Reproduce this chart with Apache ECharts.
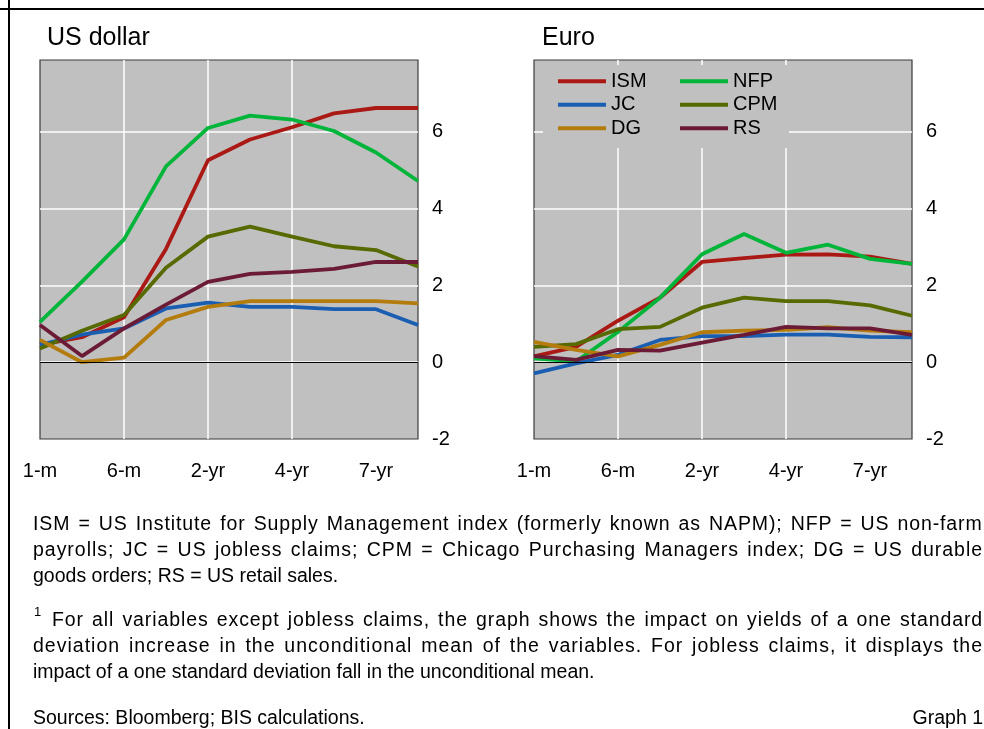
<!DOCTYPE html>
<html>
<head>
<meta charset="utf-8">
<script src="https://cdn.jsdelivr.net/npm/echarts@6/dist/echarts.min.js"></script>
<style>
  html, body { margin: 0; padding: 0; background: #fff; }
  #wrap { position: relative; width: 984px; height: 729px; overflow: hidden; font-family: "Liberation Sans", Arial, sans-serif; color: #000; }
  #chart { position: absolute; left: 0; top: 0; width: 984px; height: 729px; }
  .ln { position: absolute; font-size: 19.5px; line-height: 26px; white-space: nowrap; }
  .rule { position: absolute; background: #000; }
</style>
</head>
<body>
<div id="wrap">
  <div id="chart"></div>
  <div class="rule" style="left:0;top:8px;width:984px;height:2px;"></div>
  <div class="rule" style="left:7.5px;top:0;width:2px;height:729px;"></div>

  <div class="ln jl" data-w="950" style="left:33px;top:510px;">ISM = US Institute for Supply Management index (formerly known as NAPM); NFP = US non-farm</div>
  <div class="ln jl" data-w="950" style="left:33px;top:536px;">payrolls; JC = US jobless claims; CPM = Chicago Purchasing Managers index; DG = US durable</div>
  <div class="ln" style="left:33px;top:562px;">goods orders; RS = US retail sales.</div>

  <div class="ln" style="left:34px;top:599px;font-size:13px;">1</div>
  <div class="ln jl" data-w="931" style="left:52px;top:606px;">For all variables except jobless claims, the graph shows the impact on yields of a one standard</div>
  <div class="ln jl" data-w="950" style="left:33px;top:632px;">deviation increase in the unconditional mean of the variables. For jobless claims, it displays the</div>
  <div class="ln" style="left:33px;top:658px;">impact of a one standard deviation fall in the unconditional mean.</div>

  <div class="ln" style="left:33px;top:704px;">Sources: Bloomberg; BIS calculations.</div>
  <div class="ln" style="right:1px;top:704px;">Graph 1</div>
</div>
<script>
// ---- data ----
const categories = ['1-m', '3-m', '6-m', '1-yr', '2-yr', '3-yr', '4-yr', '5-yr', '7-yr', '10-yr'];
const seriesNames = ['ISM', 'NFP', 'JC', 'CPM', 'DG', 'RS'];
const panelTitles = ['US dollar', 'Euro'];
const yTicks = { min: -2, max: 7.87, interval: 2 };

// US dollar panel
const usISM = [0.45, 0.65, 1.17, 2.95, 5.26, 5.80, 6.12, 6.48, 6.62, 6.62];
const usNFP = [1.05, 2.10, 3.20, 5.10, 6.10, 6.42, 6.32, 6.02, 5.46, 4.72];
const usJC  = [0.45, 0.72, 0.88, 1.40, 1.55, 1.44, 1.44, 1.38, 1.38, 0.97];
const usCPM = [0.36, 0.82, 1.23, 2.46, 3.27, 3.53, 3.27, 3.02, 2.92, 2.49];
const usDG  = [0.58, 0.00, 0.12, 1.10, 1.44, 1.59, 1.59, 1.59, 1.59, 1.53];
const usRS  = [0.97, 0.16, 0.88, 1.50, 2.09, 2.30, 2.35, 2.43, 2.61, 2.61];

// Euro panel
const euISM = [0.15, 0.40, 1.08, 1.68, 2.61, 2.71, 2.80, 2.81, 2.75, 2.56];
const euNFP = [0.10, 0.02, 0.79, 1.68, 2.81, 3.34, 2.85, 3.06, 2.69, 2.56];
const euJC  = [-0.29, -0.03, 0.19, 0.58, 0.68, 0.68, 0.72, 0.72, 0.66, 0.65];
const euCPM = [0.40, 0.47, 0.86, 0.92, 1.42, 1.68, 1.59, 1.59, 1.48, 1.21];
const euDG  = [0.53, 0.32, 0.15, 0.45, 0.78, 0.82, 0.84, 0.91, 0.82, 0.78];
const euRS  = [0.16, 0.06, 0.32, 0.30, 0.51, 0.71, 0.92, 0.88, 0.88, 0.71];

const usData = [usISM, usNFP, usJC, usCPM, usDG, usRS];
const euData = [euISM, euNFP, euJC, euCPM, euDG, euRS];

// ---- style ----
const colors = ['#ab1915', '#00b53a', '#1a5eb2', '#566a00', '#b37c0d', '#6b1b35'];
const FONT = '"Liberation Sans", Arial, sans-serif';

// justify footnote lines: spread the spare width partly over letters, partly over word gaps
(function () {
  const ctx = document.createElement('canvas').getContext('2d');
  document.querySelectorAll('.jl').forEach(function (el) {
    const target = parseFloat(el.getAttribute('data-w'));
    ctx.font = '19.5px "Liberation Sans"';
    const txt = el.textContent;
    const w = ctx.measureText(txt).width;
    const spare = target - w;
    const nSpaces = (txt.match(/ /g) || []).length;
    const ls = (spare * 0.75) / txt.length;
    const ws = (spare * 0.25) / nSpaces;
    el.style.letterSpacing = ls.toFixed(3) + 'px';
    el.style.wordSpacing = ws.toFixed(3) + 'px';
  });
})();

const chart = echarts.init(document.getElementById('chart'), null, { renderer: 'canvas' });

function gridDef(left) {
  return { left: left, top: 60, width: 378, height: 379, show: true,
           backgroundColor: '#c0c0c0', borderColor: '#3a3a3a', borderWidth: 1.2, containLabel: false };
}
function xAxisDef(gi) {
  return {
    type: 'category', gridIndex: gi, data: categories, boundaryGap: false,
    axisLine: { show: false }, axisTick: { show: false },
    axisLabel: { interval: 1, margin: 22, color: '#000', fontSize: 20, fontFamily: FONT },
    splitLine: { show: true, interval: 1, showMinLine: false, showMaxLine: false,
                 lineStyle: { color: '#ffffff', width: 1.5 } }
  };
}
function yAxisDef(gi) {
  return {
    type: 'value', gridIndex: gi, position: 'right',
    min: yTicks.min, max: yTicks.max, interval: yTicks.interval,
    axisLine: { show: false }, axisTick: { show: false },
    axisLabel: { showMaxLabel: false, align: 'left', margin: 14, color: '#000', fontSize: 20, fontFamily: FONT },
    splitLine: { show: true, showMinLine: false, showMaxLine: false, lineStyle: { color: '#ffffff', width: 1.5 } }
  };
}

const series = [];
[usData, euData].forEach(function (panel, gi) {
  seriesNames.forEach(function (name, i) {
    const s = {
      name: name, type: 'line', xAxisIndex: gi, yAxisIndex: gi,
      data: panel[i], showSymbol: false, symbol: 'none', smooth: false,
      color: colors[i],
      itemStyle: { color: colors[i] },
      lineStyle: { color: colors[i], width: 3.8 },
      emphasis: { disabled: true }, silent: true
    };
    if (i === 0) {
      s.markLine = {
        silent: true, symbol: ['none', 'none'], label: { show: false },
        lineStyle: { color: '#000', width: 1, type: 'solid' },
        emphasis: { disabled: true },
        data: [{ yAxis: 0 }]
      };
    }
    series.push(s);
  });
});

const legendData = seriesNames.map(function (n, i) {
  return { name: n, textStyle: { width: (i % 2 === 0) ? 69 : 55 } };
});

chart.setOption({
  animation: false,
  textStyle: { fontFamily: FONT },
  title: [
    { text: panelTitles[0], left: 47, top: 26, padding: 0, textStyle: { fontSize: 25, fontWeight: 'normal', color: '#000', fontFamily: FONT } },
    { text: panelTitles[1], left: 542, top: 26, padding: 0, textStyle: { fontSize: 25, fontWeight: 'normal', color: '#000', fontFamily: FONT } }
  ],
  legend: {
    data: legendData, orient: 'horizontal', left: 543, top: 65, width: 235,
    padding: [4.5, 1, 8, 15], itemGap: 0, itemWidth: 48, itemHeight: 4, icon: 'rect',
    backgroundColor: '#c0c0c0', selectedMode: false,
    itemStyle: { borderWidth: 0 },
    textStyle: { fontSize: 20, color: '#000', fontFamily: FONT, lineHeight: 23.5 }
  },
  grid: [gridDef(40), gridDef(534)],
  xAxis: [xAxisDef(0), xAxisDef(1)],
  yAxis: [yAxisDef(0), yAxisDef(1)],
  series: series
});
</script>
</body>
</html>
